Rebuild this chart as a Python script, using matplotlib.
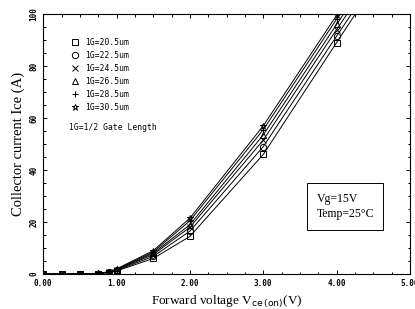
import matplotlib
matplotlib.use("Agg")
import matplotlib.pyplot as plt
from matplotlib.ticker import MultipleLocator

# forward voltage (V); last point only extends the lines past the top
voltage = [0.0, 0.25, 0.5, 0.75, 0.9, 1.0, 1.5, 2.0, 3.0, 4.0, 4.5]
labels = ["1G=20.5um", "1G=22.5um", "1G=24.5um", "1G=26.5um", "1G=28.5um", "1G=30.5um"]
markers = ["s", "o", "x", "^", "+", "*"]
ice_205 = [0.0, 0.0, 0.0, 0.2, 0.6, 1.2, 6.0, 14.5, 46.0, 89.0, 110.5]
ice_225 = [0.0, 0.0, 0.0, 0.2, 0.7, 1.4, 6.8, 16.5, 49.0, 91.5, 112.5]
ice_245 = [0.0, 0.0, 0.0, 0.2, 0.7, 1.6, 7.5, 18.0, 51.5, 94.0, 115.0]
ice_265 = [0.0, 0.0, 0.0, 0.3, 0.8, 1.7, 8.0, 19.0, 53.5, 96.0, 117.0]
ice_285 = [0.0, 0.0, 0.0, 0.3, 0.8, 1.8, 8.5, 20.5, 55.5, 98.0, 119.0]
ice_305 = [0.0, 0.0, 0.0, 0.3, 0.9, 2.0, 9.0, 21.5, 57.0, 99.5, 120.5]
series = [ice_205, ice_225, ice_245, ice_265, ice_285, ice_305]
xticks = [0, 1, 2, 3, 4, 5]
yticks = [0, 20, 40, 60, 80, 100]

mono = "DejaVu Sans Mono"
serif = "Liberation Serif"

fig = plt.figure(figsize=(4.15, 3.09), dpi=100)
ax = fig.add_axes([0.104, 0.113, 0.884, 0.842])

n = len(voltage) - 1
for values, marker, label in zip(series, markers, labels):
    ax.plot(voltage, values, color="black", lw=0.7, marker=marker, ms=4.5,
            mfc="none", mec="black", mew=0.7, markevery=list(range(n)),
            label=label)

ax.set_xlim(0, 5)
ax.set_ylim(0, 100)
ax.set_xticks(xticks)
ax.set_xticklabels([f"{v:.2f}" for v in xticks], family=mono, fontsize=5.5,
                   weight="bold")
ax.set_yticks(yticks)
ax.set_yticklabels([str(v) for v in yticks], family=mono, fontsize=5.5,
                   weight="bold", rotation=90, va="center")
ax.xaxis.set_minor_locator(MultipleLocator(0.25))
ax.yaxis.set_minor_locator(MultipleLocator(5))
ax.tick_params(which="both", direction="in", top=True, right=True, width=0.7)
ax.tick_params(which="major", length=3)
ax.tick_params(which="minor", length=1.8)
for spine in ax.spines.values():
    spine.set_linewidth(0.8)

ax.set_xlabel("Forward voltage V$_{\\mathrm{ce\\,(on)}}$(V)", family=serif,
              fontsize=9.5, labelpad=4)
ax.set_ylabel("Collector current Ice (A)", family=serif, fontsize=10.5,
              labelpad=3)

leg = ax.legend(loc="upper left", bbox_to_anchor=(0.055, 0.935), frameon=False,
                prop={"family": mono, "size": 5.8}, handlelength=1.2,
                handletextpad=0.6, labelspacing=0.5)
for handle in leg.legend_handles:
    handle.set_linestyle("none")

ax.text(0.07, 0.555, "1G=1/2 Gate Length", transform=ax.transAxes,
        family=mono, fontsize=5.8)

ax.text(0.745, 0.26, "Vg=15V\nTemp=25\u00b0C", transform=ax.transAxes,
        family=serif, fontsize=8.5, linespacing=1.4, va="center",
        bbox={"boxstyle": "square,pad=0.8", "fc": "white", "ec": "black",
              "lw": 0.7})

fig.savefig("out.png", dpi=100)
